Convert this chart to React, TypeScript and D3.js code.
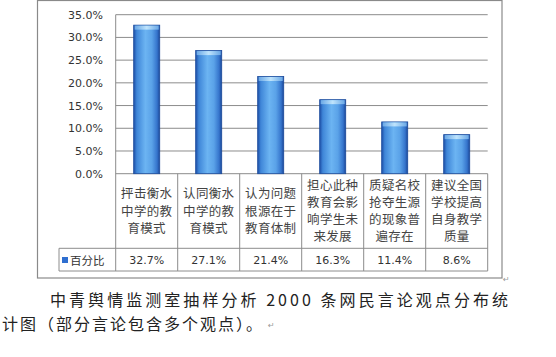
import React from "react";
import * as d3 from "d3";

const categories: string[][] = [
  ["抨击衡水", "中学的教", "育模式"],
  ["认同衡水", "中学的教", "育模式"],
  ["认为问题", "根源在于", "教育体制"],
  ["担心此种", "教育会影", "响学生未", "来发展"],
  ["质疑名校", "抢夺生源", "的现象普", "遍存在"],
  ["建议全国", "学校提高", "自身教学", "质量"],
];
const values: number[] = [32.7, 27.1, 21.4, 16.3, 11.4, 8.6];
const valueLabels: string[] = ["32.7%", "27.1%", "21.4%", "16.3%", "11.4%", "8.6%"];
const ticks: number[] = [0, 5, 10, 15, 20, 25, 30, 35];
const seriesName = "百分比";
const caption1 = "中青舆情监测室抽样分析 2000 条网民言论观点分布统";
const caption2 = "计图（部分言论包含多个观点）。";

export default function App() {
  const W = 556, H = 357;
  const plotL = 115.7, plotR = 487.7, plotT = 14.7, plotB = 173.7;
  const tableB = 271, valRowT = 248.3, legendL = 59;
  const x = d3.scaleBand<number>().domain(d3.range(categories.length)).range([plotL, plotR]).paddingInner(0.58).paddingOuter(0.29);
  const xc = d3.scaleBand<number>().domain(d3.range(categories.length)).range([plotL, plotR]);
  const y = d3.scaleLinear().domain([0, 35]).range([plotB, plotT]);
  const grid = "#8c8c8c";
  const font = "'DejaVu Sans', Verdana, sans-serif";
  const cjk = "'Noto Sans CJK SC', sans-serif";
  const labelMid = (plotB + valRowT) / 2;
  return (
    <svg width={W} height={H} style={{ position: "absolute", left: 0, top: 0, background: "#fff" }}>
      <defs>
        <linearGradient id="barG" x1="0" x2="1" y1="0" y2="0">
          <stop offset="0" stopColor="#1d4fa8" />
          <stop offset="0.12" stopColor="#3f86d8" />
          <stop offset="0.45" stopColor="#6cb4f2" />
          <stop offset="0.7" stopColor="#5aa2e8" />
          <stop offset="0.9" stopColor="#3574cc" />
          <stop offset="1" stopColor="#1b4696" />
        </linearGradient>
        <linearGradient id="capG" x1="0" x2="1" y1="0" y2="0">
          <stop offset="0" stopColor="#6aa8e6" />
          <stop offset="0.5" stopColor="#bfe4fc" />
          <stop offset="1" stopColor="#6aa8e6" />
        </linearGradient>
      </defs>
      <rect x={37.5} y={0.5} width={464.5} height={277.5} fill="#fff" stroke="#8a8a8a" strokeWidth={1.2} />
      {ticks.map((t) => (
        <g key={t}>
          <line x1={plotL} x2={plotR} y1={y(t)} y2={y(t)} stroke={grid} strokeWidth={1} />
          <text x={103} y={y(t) + 4} textAnchor="end" fontFamily={font} fontSize={11} fill="#333">
            {t.toFixed(1)}%
          </text>
        </g>
      ))}
      <line x1={plotL} x2={plotL} y1={plotT} y2={tableB} stroke={grid} />
      {values.map((v, i) => {
        const bx = x(i)!, bw = x.bandwidth();
        const top = y(v);
        return (
          <g key={i}>
            <rect x={bx} y={top} width={bw} height={plotB - top} fill="url(#barG)" stroke="#1a4a9c" strokeWidth={0.8} />
            <rect x={bx + 1} y={top + 0.5} width={bw - 2} height={4} fill="url(#capG)" />
          </g>
        );
      })}
      {categories.map((lines, i) => {
        const cx = xc(i)! + xc.bandwidth() / 2;
        const n = lines.length;
        return (
          <g key={i}>
            <line x1={xc(i)! + xc.bandwidth()} x2={xc(i)! + xc.bandwidth()} y1={plotB} y2={tableB} stroke={grid} />
            {lines.map((s, j) => (
              <text key={j} x={cx} y={labelMid + (j - (n - 1) / 2) * 17.2 + 4.5} textAnchor="middle" fontFamily={cjk} fontSize={12.5} letterSpacing={0.3} fill="#444">
                {s}
              </text>
            ))}
            <text x={cx} y={264} textAnchor="middle" fontFamily={font} fontSize={11} fill="#333">
              {valueLabels[i]}
            </text>
          </g>
        );
      })}
      <line x1={legendL} x2={plotR} y1={valRowT} y2={valRowT} stroke={grid} />
      <line x1={legendL} x2={plotR} y1={tableB} y2={tableB} stroke={grid} />
      <line x1={legendL} x2={legendL} y1={valRowT} y2={tableB} stroke={grid} />
      <rect x={62} y={257} width={6} height={6} fill="#2f6fd0" />
      <text x={70} y={264.5} fontFamily={cjk} fontSize={11.5} fill="#333">{seriesName}</text>
      <text x={503} y={282} fontFamily={font} fontSize={8} fill="#999">↵</text>
      <text x={50} y={306} fontFamily={cjk} fontSize={16} fill="#222" textLength={458} lengthAdjust="spacing">{caption1}</text>
      <text x={2} y={330} fontFamily={cjk} fontSize={16} fill="#222" letterSpacing={2}>{caption2}</text>
      <text x={268} y={328} fontFamily={font} fontSize={8} fill="#999">↵</text>
    </svg>
  );
}
